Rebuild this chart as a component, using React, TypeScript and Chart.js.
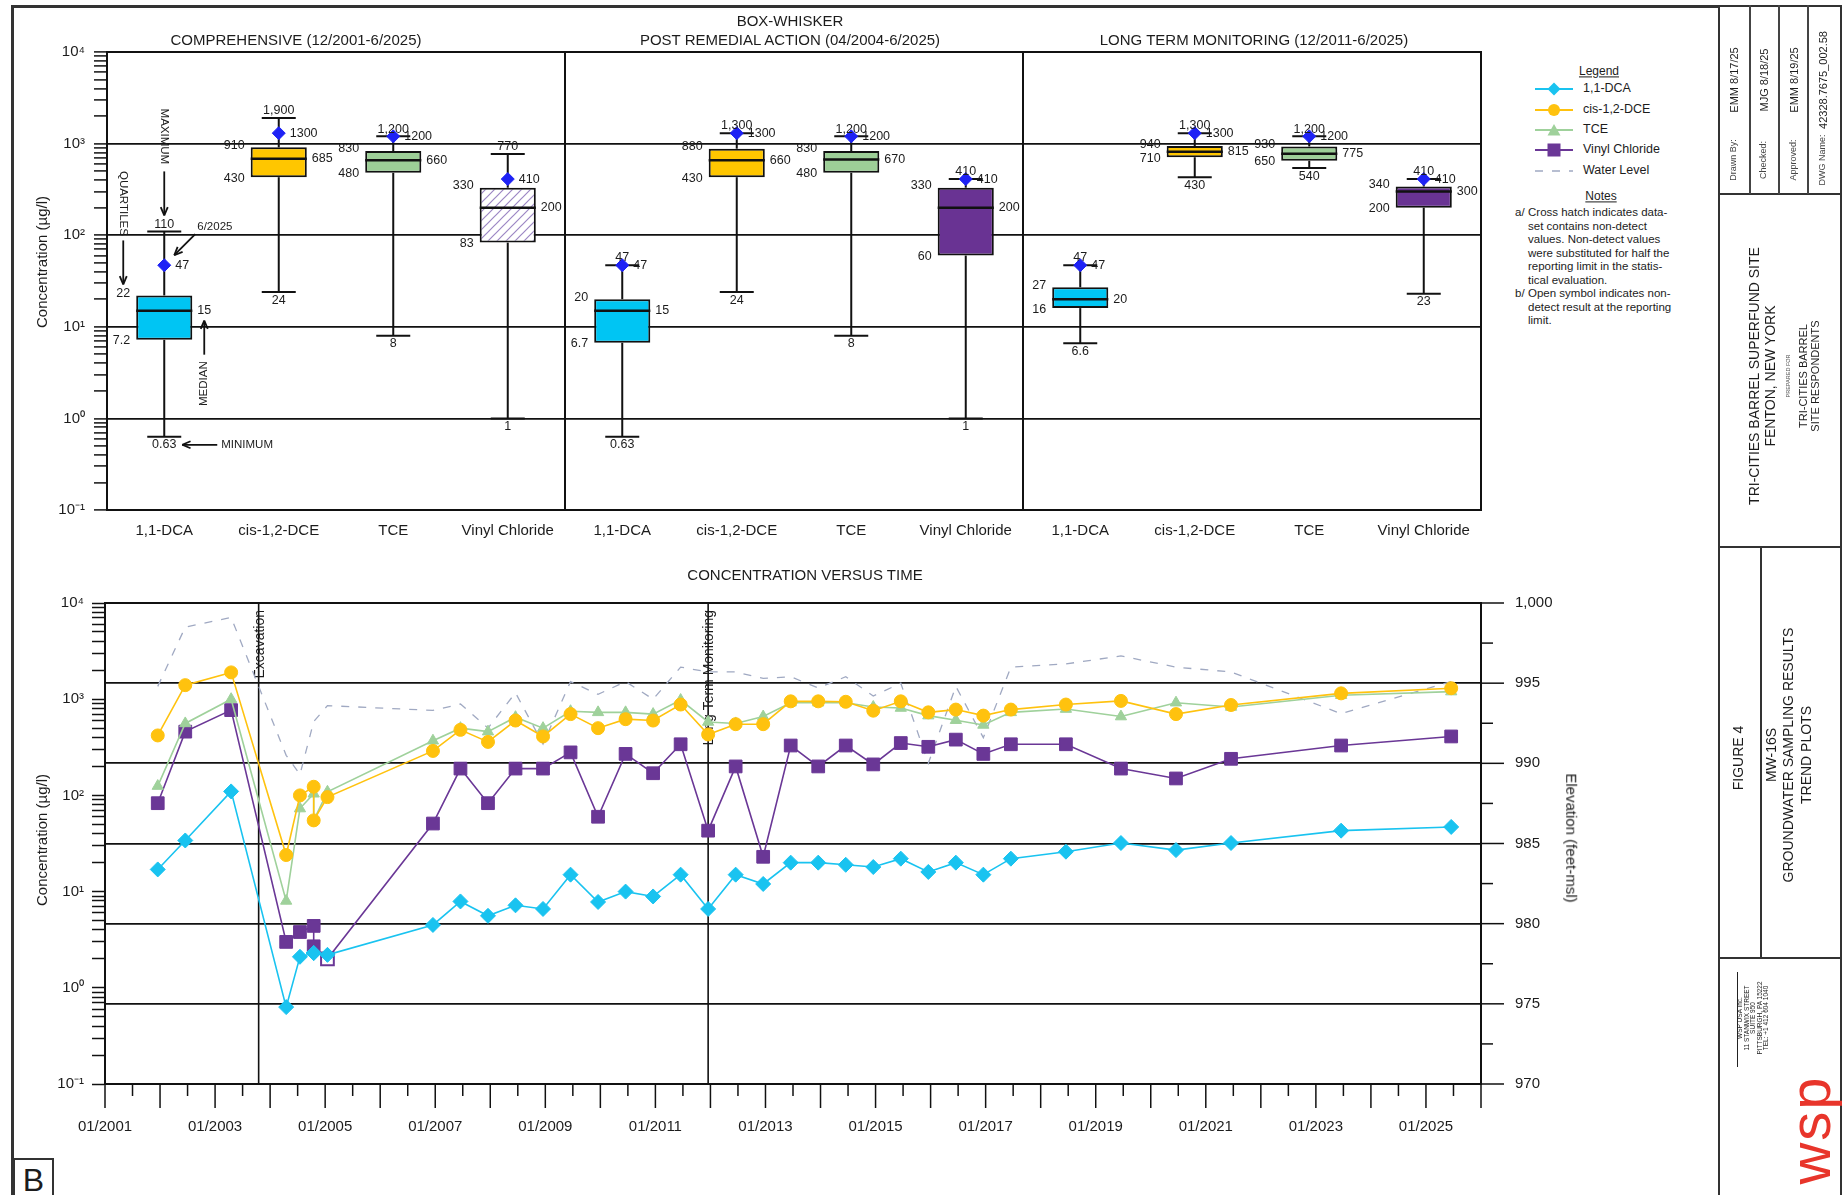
import React, { useEffect, useRef } from 'react';
import { Chart, registerables } from 'chart.js';

Chart.register(...registerables);

const FONT = "'Liberation Sans', Arial, Helvetica, sans-serif";
const INK = '#1c1c1c';

// ---------------- Box-whisker statistics ----------------
const panelTitles = [
  'COMPREHENSIVE (12/2001-6/2025)',
  'POST REMEDIAL ACTION (04/2004-6/2025)',
  'LONG TERM MONITORING (12/2011-6/2025)',
];
const compounds = ['1,1-DCA', 'cis-1,2-DCE', 'TCE', 'Vinyl Chloride'];
const boxCategories = [...compounds, ...compounds, ...compounds];
const boxMin = [0.63, 24, 8, 1, 0.63, 24, 8, 1, 6.6, 430, 540, 23];
const boxQ1 = [7.2, 430, 480, 83, 6.7, 430, 480, 60, 16, 710, 650, 200];
const boxMedian = [15, 685, 660, 200, 15, 660, 670, 200, 20, 815, 775, 300];
const boxQ3 = [22, 910, 830, 330, 20, 880, 830, 330, 27, 940, 930, 340];
const boxMax = [110, 1900, 1200, 770, 47, 1300, 1200, 410, 47, 1300, 1200, 410];
const boxLatest = [47, 1300, 1200, 410, 47, 1300, 1200, 410, 47, 1300, 1200, 410];
const boxHatched = [false, false, false, true, false, false, false, false, false, false, false, false];

const compoundColors = ['#00c5f3', '#ffc600', '#9dcf97', '#693393'];
const lineColors = ['#19c3f0', '#ffc20e', '#9fd19b', '#6a3796'];
const waterColor = '#a0a9c2';

// ---------------- Trend data ----------------
const sampleDates = [
  '12/2001', '06/2002', '04/2003', '04/2004', '07/2004', '10/2004', '10/2004', '01/2005',
  '12/2006', '06/2007', '12/2007', '06/2008', '12/2008', '06/2009', '12/2009', '06/2010',
  '12/2010', '06/2011', '12/2011', '06/2012', '12/2012', '06/2013', '12/2013', '06/2014',
  '12/2014', '06/2015', '12/2015', '06/2016', '12/2016', '06/2017', '06/2018', '06/2019',
  '06/2020', '06/2021', '06/2023', '06/2025',
];
const dcaValues = [17, 34, 110, 0.63, 2.1, 2.3, 2.3, 2.2, 4.5, 7.9, 5.6, 7.2, 6.6, 15, 7.8, 10, 8.9, 15, 6.6, 15, 12, 20, 20, 19, 18, 22, 16, 20, 15, 22, 26, 32, 27, 32, 43, 47];
const dceValues = [420, 1400, 1900, 24, 100, 123, 55, 96, 290, 480, 360, 600, 410, 700, 500, 620, 600, 880, 430, 550, 550, 950, 950, 940, 760, 950, 730, 780, 675, 780, 880, 960, 700, 870, 1150, 1300];
const tceValues = [125, 560, 1000, 8, 73, 104, 55, 109, 370, 500, 460, 650, 500, 750, 730, 730, 700, 980, 580, 560, 660, 920, 920, 920, 830, 810, 675, 605, 540, 730, 790, 660, 920, 830, 1100, 1200];
const vcValues = [83, 460, 770, 3, 3.8, 4.4, 2.7, 2, 51, 190, 83, 190, 190, 280, 60, 270, 170, 340, 43, 200, 23, 330, 200, 330, 210, 350, 320, 380, 270, 340, 340, 190, 150, 240, 330, 410];
const vcNonDetectDates = ['01/2005'];
const waterLevel = [994.8, 998.5, 999.1, 990.5, 989.3, 992.6, 992.6, 993.6, 993.3, 993.7, 992.2, 994.4, 991.2, 995.1, 994.3, 995.1, 994.0, 996.0, 995.7, 995.7, 995.3, 995.4, 994.7, 995.4, 994.2, 995.0, 990.0, 994.8, 991.6, 996.0, 996.2, 996.7, 996.0, 995.7, 993.1, 995.1];
const eventMarkers = [
  { label: 'Excavation', date: '10/2003' },
  { label: 'Long Term Monitoring', date: '12/2011' },
];
const timeStart = 2001;
const timeEnd = 2026;
const elevMin = 970;
const elevMax = 1000;
const concMin = 0.1;
const concMax = 10000;

// ---------------- helpers ----------------
const toYear = (d: string) => {
  const [m, y] = d.split('/').map(Number);
  return y + (m - 0.5) / 12;
};
const pts = (vals: number[]) => sampleDates.map((d, i) => ({ x: toYear(d), y: vals[i] }));

const logTicks: number[] = [];
for (let e = -1; e < 4; e++) for (let s = 1; s < 10; s++) logTicks.push(+(s * Math.pow(10, e)).toPrecision(6));
logTicks.push(concMax);

const isPow10 = (v: number) => Math.abs(Math.log10(v) - Math.round(Math.log10(v))) < 1e-6;
const SUP: Record<string, string> = { '-': '\u207B', '0': '\u2070', '1': '\u00B9', '2': '\u00B2', '3': '\u00B3', '4': '\u2074' };
const pow10Label = (v: any) => {
  const n = Number(v);
  if (!isPow10(n)) return '';
  return '10' + String(Math.round(Math.log10(n))).split('').map((c) => SUP[c]).join('');
};

function seg(ctx: any, x1: number, y1: number, x2: number, y2: number) {
  ctx.beginPath();
  ctx.moveTo(x1, y1);
  ctx.lineTo(x2, y2);
  ctx.stroke();
}
function arrow(ctx: any, x1: number, y1: number, x2: number, y2: number) {
  seg(ctx, x1, y1, x2, y2);
  const ang = Math.atan2(y2 - y1, x2 - x1);
  const L = 9;
  seg(ctx, x2, y2, x2 - L * Math.cos(ang - 0.4), y2 - L * Math.sin(ang - 0.4));
  seg(ctx, x2, y2, x2 - L * Math.cos(ang + 0.4), y2 - L * Math.sin(ang + 0.4));
}
function rotText(ctx: any, text: string, x: number, y: number, angle: number) {
  ctx.save();
  ctx.translate(x, y);
  ctx.rotate(angle);
  ctx.textAlign = 'center';
  ctx.textBaseline = 'middle';
  ctx.fillText(text, 0, 0);
  ctx.restore();
}

const boxOverlay = {
  id: 'boxOverlay',
  beforeDatasetsDraw(chart: any) {
    const { ctx, chartArea: a, scales } = chart;
    const x = scales.x;
    const y = scales.y;
    ctx.save();
    ctx.strokeStyle = '#111';
    ctx.lineWidth = 2;
    for (let p = 1; p < panelTitles.length; p++) {
      const i = p * compounds.length;
      const xd = (x.getPixelForValue(i - 1) + x.getPixelForValue(i)) / 2;
      seg(ctx, xd, a.top, xd, a.bottom);
    }
    const cap = 17;
    boxMin.forEach((mn, i) => {
      const cx = x.getPixelForValue(i);
      const yMin = y.getPixelForValue(mn);
      const yMax = y.getPixelForValue(boxMax[i]);
      seg(ctx, cx, yMin, cx, y.getPixelForValue(boxQ1[i]));
      seg(ctx, cx, y.getPixelForValue(boxQ3[i]), cx, yMax);
      seg(ctx, cx - cap, yMin, cx + cap, yMin);
      seg(ctx, cx - cap, yMax, cx + cap, yMax);
    });
    ctx.restore();
  },
  afterDatasetsDraw(chart: any) {
    const { ctx, chartArea: a, scales } = chart;
    const x = scales.x;
    const y = scales.y;
    const bars = chart.getDatasetMeta(1).data;
    ctx.save();
    ctx.strokeStyle = '#111';
    ctx.lineWidth = 2.5;
    boxMedian.forEach((m, i) => {
      const bw = bars[i].width / 2;
      const cx = x.getPixelForValue(i);
      const ym = y.getPixelForValue(m);
      seg(ctx, cx - bw, ym, cx + bw, ym);
    });
    ctx.lineWidth = 2;
    ctx.strokeRect(a.left, a.top, a.right - a.left, a.bottom - a.top);

    ctx.fillStyle = INK;
    ctx.font = `12.5px ${FONT}`;
    boxMin.forEach((mn, i) => {
      const bw = bars[i].width / 2;
      const cx = x.getPixelForValue(i);
      ctx.textBaseline = 'middle';
      ctx.textAlign = 'right';
      ctx.fillText(String(boxQ3[i]), cx - bw - 6, y.getPixelForValue(boxQ3[i]) - 2);
      ctx.fillText(String(boxQ1[i]), cx - bw - 6, y.getPixelForValue(boxQ1[i]) + 1);
      ctx.textAlign = 'left';
      ctx.fillText(String(boxMedian[i]), cx + bw + 5, y.getPixelForValue(boxMedian[i]));
      ctx.fillText(String(boxLatest[i]), cx + 11, y.getPixelForValue(boxLatest[i]));
      ctx.textAlign = 'center';
      ctx.textBaseline = 'bottom';
      ctx.fillText(boxMax[i].toLocaleString('en-US'), cx, y.getPixelForValue(boxMax[i]) - 1);
      ctx.textBaseline = 'top';
      ctx.fillText(String(mn), cx, y.getPixelForValue(mn) + 2);
    });

    // explanatory annotations on the first box
    const cx0 = x.getPixelForValue(0);
    const yQ3 = y.getPixelForValue(boxQ3[0]);
    const yMax = y.getPixelForValue(boxMax[0]);
    const yLat = y.getPixelForValue(boxLatest[0]);
    const yMed = y.getPixelForValue(boxMedian[0]);
    const yMin = y.getPixelForValue(boxMin[0]);
    ctx.font = `11.5px ${FONT}`;
    ctx.lineWidth = 1.8;
    rotText(ctx, 'QUARTILES', cx0 - 41, yQ3 - 92, Math.PI / 2);
    arrow(ctx, cx0 - 41, yQ3 - 55, cx0 - 41, yQ3 - 11);
    rotText(ctx, 'MAXIMUM', cx0, yMax - 95, Math.PI / 2);
    arrow(ctx, cx0, yMax - 60, cx0, yMax - 16);
    ctx.textAlign = 'left';
    ctx.textBaseline = 'middle';
    ctx.fillText('6/2025', cx0 + 33, yLat - 38);
    arrow(ctx, cx0 + 31, yLat - 31, cx0 + 10, yLat - 10);
    rotText(ctx, 'MEDIAN', cx0 + 40, yMed + 73, -Math.PI / 2);
    arrow(ctx, cx0 + 40, yMed + 44, cx0 + 40, yMed + 10);
    ctx.textAlign = 'left';
    ctx.textBaseline = 'middle';
    ctx.fillText('MINIMUM', cx0 + 57, yMin + 8);
    arrow(ctx, cx0 + 53, yMin + 8, cx0 + 18, yMin + 8);
    ctx.restore();
  },
};

const trendOverlay = {
  id: 'trendOverlay',
  beforeDatasetsDraw(chart: any) {
    const { ctx, chartArea: a, scales } = chart;
    const x = scales.x;
    ctx.save();
    eventMarkers.forEach((ev) => {
      const px = x.getPixelForValue(toYear(ev.date));
      ctx.strokeStyle = '#111';
      ctx.lineWidth = 1.6;
      seg(ctx, px, a.top, px, a.bottom);
      ctx.save();
      ctx.translate(px + 1, a.top + 7);
      ctx.rotate(-Math.PI / 2);
      ctx.textAlign = 'right';
      ctx.textBaseline = 'middle';
      ctx.font = `14px ${FONT}`;
      ctx.fillStyle = INK;
      ctx.fillText(ev.label, 0, 0);
      ctx.restore();
    });
    ctx.restore();
  },
  afterDraw(chart: any) {
    const { ctx, chartArea: a, scales } = chart;
    const x = scales.x;
    const y2 = scales.y2;
    ctx.save();
    ctx.strokeStyle = '#111';
    ctx.lineWidth = 2;
    ctx.strokeRect(a.left, a.top, a.right - a.left, a.bottom - a.top);
    ctx.lineWidth = 1.5;
    x.ticks.forEach((t: any) => {
      const px = x.getPixelForValue(t.value);
      const whole = Math.abs(t.value - Math.round(t.value)) < 1e-6;
      seg(ctx, px, a.bottom, px, a.bottom + (whole ? 24 : 12));
    });
    y2.ticks.forEach((t: any) => {
      const py = y2.getPixelForValue(t.value);
      const major = Math.abs(t.value % 5) < 1e-6;
      seg(ctx, a.right, py, a.right + (major ? 23 : 12), py);
    });
    ctx.restore();
  },
};

function makeHatch() {
  const c = document.createElement('canvas');
  c.width = 9;
  c.height = 9;
  const g = c.getContext('2d') as CanvasRenderingContext2D;
  g.fillStyle = '#ffffff';
  g.fillRect(0, 0, 9, 9);
  g.strokeStyle = '#9c87c4';
  g.lineWidth = 1.2;
  g.beginPath();
  g.moveTo(0, 9);
  g.lineTo(9, 0);
  g.moveTo(-2, 2);
  g.lineTo(2, -2);
  g.moveTo(7, 11);
  g.lineTo(11, 7);
  g.stroke();
  const ctx = document.createElement('canvas').getContext('2d') as CanvasRenderingContext2D;
  return ctx.createPattern(c, 'repeat');
}

const tickFont = { family: FONT, size: 15 };

function Txt(props: any) {
  const { x, y, text, size = 14, rot = 0, color = INK, weight = 400, anchor = 'center', style = {} } = props;
  const tx = anchor === 'left' ? '0' : '-50%';
  return (
    <div
      style={{
        position: 'absolute',
        left: x,
        top: y,
        transform: `translate(${tx},-50%) rotate(${rot}deg)`,
        transformOrigin: anchor === 'left' ? '0 50%' : '50% 50%',
        fontSize: size,
        fontWeight: weight,
        color,
        whiteSpace: 'nowrap',
        lineHeight: 1.1,
        ...style,
      }}
    >
      {text}
    </div>
  );
}

function LegendSymbol(props: any) {
  const { color, marker } = props;
  const dash = marker === 'dash';
  return (
    <svg width={40} height={14} style={{ position: 'absolute', left: 0, top: 0 }}>
      <line x1={1} y1={7} x2={39} y2={7} stroke={color} strokeWidth={dash ? 1.3 : 1.8} strokeDasharray={dash ? '8 9' : undefined} />
      {marker === 'diamond' && <polygon points="20,0.5 26.5,7 20,13.5 13.5,7" fill={color} />}
      {marker === 'circle' && <circle cx={20} cy={7} r={6} fill={color} />}
      {marker === 'triangle' && <polygon points="20,1 26.5,12.5 13.5,12.5" fill={color} />}
      {marker === 'square' && <rect x={13.5} y={0.5} width={13} height={13} fill={color} />}
    </svg>
  );
}

const legendItems = [
  { label: '1,1-DCA', color: lineColors[0], marker: 'diamond' },
  { label: 'cis-1,2-DCE', color: lineColors[1], marker: 'circle' },
  { label: 'TCE', color: lineColors[2], marker: 'triangle' },
  { label: 'Vinyl Chloride', color: lineColors[3], marker: 'square' },
  { label: 'Water Level', color: waterColor, marker: 'dash' },
];
const legendRowY = [89, 110, 130, 150, 171];

const notesLines = [
  ['a/', 'Cross hatch indicates data-'],
  ['', 'set contains non-detect'],
  ['', 'values. Non-detect values'],
  ['', 'were substituted for half the'],
  ['', 'reporting limit in the statis-'],
  ['', 'tical evaluation.'],
  ['b/', 'Open symbol indicates non-'],
  ['', 'detect result at the reporting'],
  ['', 'limit.'],
];

const signOff = [
  { label: 'Drawn By:', value: 'EMM 8/17/25' },
  { label: 'Checked:', value: 'MJG 8/18/25' },
  { label: 'Approved:', value: 'EMM 8/19/25' },
  { label: 'DWG Name:', value: '42328.7675_002.58' },
];
const signOffCols = [1733.5, 1764.5, 1795.5, 1825.5];

export default function App() {
  const boxRef = useRef<HTMLCanvasElement>(null);
  const trendRef = useRef<HTMLCanvasElement>(null);

  useEffect(() => {
    const hatch = makeHatch();
    const boxChart = new Chart(boxRef.current as HTMLCanvasElement, {
      type: 'bar',
      data: {
        labels: boxCategories,
        datasets: [
          {
            type: 'line',
            label: '6/2025',
            data: boxLatest,
            showLine: false,
            pointStyle: 'rectRot',
            pointRadius: 6.5,
            pointHoverRadius: 6.5,
            pointBackgroundColor: '#1e22f5',
            pointBorderColor: '#1e22f5',
            borderColor: '#1e22f5',
          } as any,
          {
            type: 'bar',
            label: 'Quartiles',
            data: boxQ1.map((q, i) => [q, boxQ3[i]]),
            backgroundColor: boxCategories.map((_, i) => (boxHatched[i] ? hatch : compoundColors[i % compounds.length])),
            borderColor: '#111',
            borderWidth: 2,
            borderSkipped: false,
            barPercentage: 0.49,
            categoryPercentage: 1,
          } as any,
        ],
      },
      options: {
        responsive: false,
        animation: false,
        layout: { padding: { left: 0, right: 19, top: 52, bottom: 0 } },
        plugins: { legend: { display: false }, tooltip: { enabled: false } },
        scales: {
          x: {
            afterFit: (s: any) => { s.height = 50; },
            grid: { display: false, drawTicks: false },
            border: { display: false },
            ticks: { padding: 12, font: tickFont, color: INK, autoSkip: false, maxRotation: 0 },
          },
          y: {
            type: 'logarithmic',
            min: concMin,
            max: concMax,
            afterFit: (s: any) => { s.width = 107; },
            afterBuildTicks: (s: any) => { s.ticks = logTicks.map((v) => ({ value: v })); },
            grid: {
              color: (c: any) => (c.tick && isPow10(c.tick.value) ? '#111' : 'rgba(0,0,0,0)'),
              tickColor: '#111',
              lineWidth: 1.8,
              tickWidth: 1.5,
              tickLength: 13,
            },
            border: { display: true, color: '#111', width: 2 },
            ticks: { callback: pow10Label, font: tickFont, color: INK, padding: 9, autoSkip: false },
          },
        },
      } as any,
      plugins: [boxOverlay],
    });

    const trendChart = new Chart(trendRef.current as HTMLCanvasElement, {
      type: 'line',
      data: {
        datasets: [
          {
            label: '1,1-DCA', data: pts(dcaValues), yAxisID: 'y',
            borderColor: lineColors[0], backgroundColor: lineColors[0], pointBackgroundColor: lineColors[0], pointBorderColor: lineColors[0],
            pointStyle: 'rectRot', pointRadius: 7.5, borderWidth: 1.6, pointBorderWidth: 1, tension: 0,
          },
          {
            label: 'cis-1,2-DCE', data: pts(dceValues), yAxisID: 'y',
            borderColor: lineColors[1], backgroundColor: lineColors[1], pointBackgroundColor: lineColors[1], pointBorderColor: lineColors[1],
            pointStyle: 'circle', pointRadius: 6.5, borderWidth: 1.6, pointBorderWidth: 1, tension: 0,
          },
          {
            label: 'TCE', data: pts(tceValues), yAxisID: 'y',
            borderColor: lineColors[2], backgroundColor: lineColors[2], pointBackgroundColor: lineColors[2], pointBorderColor: lineColors[2],
            pointStyle: 'triangle', pointRadius: 6.5, borderWidth: 1.6, pointBorderWidth: 1, tension: 0,
          },
          {
            label: 'Vinyl Chloride', data: pts(vcValues), yAxisID: 'y',
            borderColor: lineColors[3], backgroundColor: lineColors[3],
            pointBackgroundColor: sampleDates.map((d) => (vcNonDetectDates.includes(d) ? '#ffffff' : lineColors[3])),
            pointBorderColor: lineColors[3],
            pointBorderWidth: sampleDates.map((d) => (vcNonDetectDates.includes(d) ? 2 : 1)),
            pointStyle: 'rect', pointRadius: 9, borderWidth: 1.6, tension: 0,
          },
          {
            label: 'Water Level', data: pts(waterLevel), yAxisID: 'y2',
            borderColor: waterColor, backgroundColor: waterColor, borderDash: [8, 9], borderWidth: 1.3, pointRadius: 0, tension: 0,
          },
        ] as any,
      },
      options: {
        responsive: false,
        animation: false,
        layout: { padding: { left: 0, right: 0, top: 37, bottom: 0 } },
        plugins: { legend: { display: false }, tooltip: { enabled: false } },
        scales: {
          x: {
            type: 'linear',
            min: timeStart,
            max: timeEnd,
            afterFit: (s: any) => { s.height = 111; },
            grid: { display: false, drawTicks: false },
            border: { display: false },
            ticks: {
              stepSize: 0.5,
              autoSkip: false,
              maxRotation: 0,
              padding: 34,
              font: tickFont,
              color: INK,
              callback: (v: any) => (Number.isInteger(v) && v % 2 === 1 ? `01/${v}` : ''),
            },
          },
          y: {
            type: 'logarithmic',
            position: 'left',
            min: concMin,
            max: concMax,
            afterFit: (s: any) => { s.width = 105; },
            afterBuildTicks: (s: any) => { s.ticks = logTicks.map((v) => ({ value: v })); },
            grid: { drawOnChartArea: false, tickColor: '#111', tickWidth: 1.5, tickLength: 13 },
            border: { display: true, color: '#111', width: 2 },
            ticks: { callback: pow10Label, font: tickFont, color: INK, padding: 8, autoSkip: false },
          },
          y2: {
            type: 'linear',
            position: 'right',
            min: elevMin,
            max: elevMax,
            afterFit: (s: any) => { s.width = 139; },
            grid: {
              drawOnChartArea: true,
              drawTicks: false,
              color: (c: any) => (c.tick && Math.abs(c.tick.value % 5) < 1e-6 ? '#111' : 'rgba(0,0,0,0)'),
              lineWidth: 1.8,
            },
            border: { display: false },
            ticks: {
              stepSize: 2.5,
              autoSkip: false,
              padding: 34,
              font: tickFont,
              color: INK,
              callback: (v: any) => (Math.abs(v % 5) < 1e-6 ? Number(v).toLocaleString('en-US') : ''),
            },
          },
        },
      } as any,
      plugins: [trendOverlay],
    });

    return () => {
      boxChart.destroy();
      trendChart.destroy();
    };
  }, []);

  return (
    <div
      style={{
        position: 'fixed', left: 0, top: 0, width: 1843, height: 1195, background: '#fff',
        overflow: 'hidden', fontFamily: FONT, color: INK,
      }}
    >
      <canvas ref={boxRef} width={1500} height={560} style={{ position: 'absolute', left: 0, top: 0, width: 1500, height: 560 }} />
      <canvas ref={trendRef} width={1620} height={635} style={{ position: 'absolute', left: 0, top: 560, width: 1620, height: 635 }} />

      {/* outer drawing frame */}
      <div style={{ position: 'absolute', left: 11, top: 5, width: 1709, height: 3, background: '#333' }} />
      <div style={{ position: 'absolute', left: 11, top: 5, width: 2.5, height: 1190, background: '#333' }} />

      {/* box-whisker titles */}
      <Txt x={790} y={21} text="BOX-WHISKER" size={15} />
      <Txt x={296} y={40} text={panelTitles[0]} size={15} />
      <Txt x={790} y={40} text={panelTitles[1]} size={15} />
      <Txt x={1254} y={40} text={panelTitles[2]} size={15} />
      <Txt x={42} y={262} text="Concentration (µg/l)" size={15} rot={-90} />

      {/* trend titles */}
      <Txt x={805} y={575} text="CONCENTRATION VERSUS TIME" size={15} />
      <Txt x={42} y={840} text="Concentration (µg/l)" size={15} rot={-90} />
      <Txt x={1571} y={838} text="Elevation (feet-msl)" size={15} rot={90} />

      {/* legend */}
      <Txt x={1599} y={72} text="Legend" size={12} style={{ textDecoration: 'underline' }} />
      {legendItems.map((it, i) => (
        <div key={it.label}>
          <div style={{ position: 'absolute', left: 1534, top: legendRowY[i] - 7, width: 40, height: 14 }}>
            <LegendSymbol color={it.color} marker={it.marker} />
          </div>
          <Txt x={1583} y={legendRowY[i]} text={it.label} size={12.5} anchor="left" />
        </div>
      ))}
      <Txt x={1601} y={197} text="Notes" size={12} style={{ textDecoration: 'underline' }} />
      {notesLines.map((ln, i) => (
        <div key={i}>
          {ln[0] && <Txt x={1515} y={212 + i * 13.5} text={ln[0]} size={11.5} anchor="left" />}
          <Txt x={1528} y={212 + i * 13.5} text={ln[1]} size={11.5} anchor="left" />
        </div>
      ))}

      {/* title block */}
      <div style={{ position: 'absolute', left: 1718, top: 5, width: 120, height: 1192, border: '2px solid #333' }} />
      <div style={{ position: 'absolute', left: 1718, top: 193, width: 122, height: 2, background: '#333' }} />
      <div style={{ position: 'absolute', left: 1718, top: 546, width: 122, height: 2, background: '#333' }} />
      <div style={{ position: 'absolute', left: 1718, top: 957, width: 122, height: 2, background: '#333' }} />
      {[1749, 1778, 1807].map((xv) => (
        <div key={xv} style={{ position: 'absolute', left: xv, top: 5, width: 1.5, height: 189, background: '#444' }} />
      ))}
      <div style={{ position: 'absolute', left: 1760, top: 547, width: 2, height: 411, background: '#333' }} />
      {signOff.map((s, i) => (
        <div key={s.label}>
          <Txt x={signOffCols[i] - (i > 0 ? i : 0)} y={160} text={s.label} size={9} rot={-90} color="#444" />
          <Txt x={signOffCols[i] - (i > 0 ? i : 0)} y={80} text={s.value} size={11} rot={-90} />
        </div>
      ))}
      <Txt x={1755} y={376} text="TRI-CITIES BARREL SUPERFUND SITE" size={14} rot={-90} />
      <Txt x={1771} y={376} text="FENTON, NEW YORK" size={14} rot={-90} />
      <Txt x={1788} y={376} text="PREPARED FOR" size={5.5} rot={-90} color="#555" />
      <Txt x={1803} y={376} text="TRI-CITIES BARREL" size={11} rot={-90} />
      <Txt x={1815} y={376} text="SITE RESPONDENTS" size={11} rot={-90} />
      <Txt x={1739} y={758} text="FIGURE 4" size={14} rot={-90} />
      <Txt x={1772} y={755} text="MW-16S" size={14} rot={-90} />
      <Txt x={1789} y={755} text="GROUNDWATER SAMPLING RESULTS" size={14} rot={-90} />
      <Txt x={1807} y={755} text="TREND PLOTS" size={14} rot={-90} />
      {['WSP USA Inc.', '11 STANWIX STREET', 'SUITE 950', 'PITTSBURGH, PA 15222', 'TEL: +1 412 604 1040'].map((t, i) => (
        <Txt key={t} x={1740 + i * 6.5} y={1018} text={t} size={6.5} rot={-90} color="#222" />
      ))}
      <div style={{ position: 'absolute', left: 1737, top: 972, width: 1, height: 95, background: '#222' }} />
      <Txt x={1810} y={1130} text="wsp" size={58} rot={-90} color="#e8352b" style={{ letterSpacing: 2 }} />

      {/* sheet letter */}
      <div
        style={{
          position: 'absolute', left: 13, top: 1158, width: 37, height: 42, border: '2px solid #333',
          fontSize: 32, lineHeight: '40px', textAlign: 'center', background: '#fff',
        }}
      >
        B
      </div>
    </div>
  );
}
